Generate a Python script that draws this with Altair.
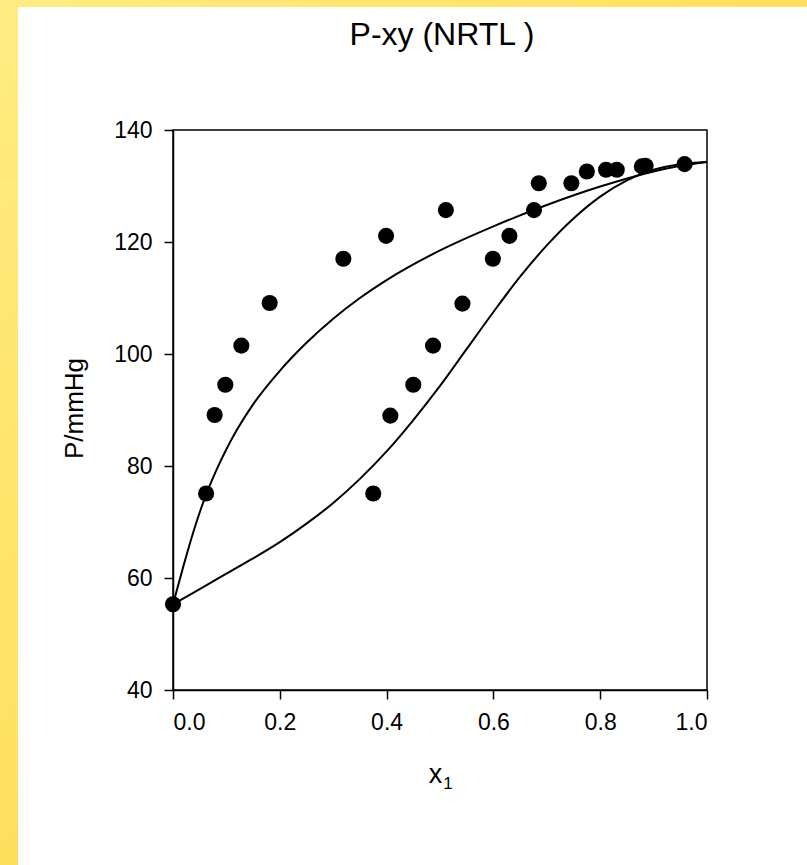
import altair as alt
import pandas as pd

# Experimental points (liquid x1 and vapour y1 compositions vs pressure)
vap_x = [0.000, 0.062, 0.078, 0.098, 0.128, 0.181, 0.319, 0.399, 0.511, 0.685, 0.775, 0.831, 0.878, 0.958]
vap_P = [55.3, 75.1, 89.1, 94.5, 101.5, 109.1, 117.0, 121.1, 125.7, 130.5, 132.6, 132.9, 133.5, 133.9]
liq_x = [0.375, 0.407, 0.450, 0.487, 0.542, 0.599, 0.630, 0.676, 0.746, 0.811, 0.885]
liq_P = [75.1, 89.0, 94.5, 101.5, 109.0, 117.0, 121.1, 125.7, 130.5, 132.9, 133.6]

# NRTL model curves
dew_x = [0.00, 0.02, 0.04, 0.06, 0.08, 0.10, 0.12, 0.15, 0.20, 0.25, 0.30, 0.35, 0.40, 0.50, 0.60, 0.70, 0.80, 0.90, 0.95, 1.00]
dew_P = [55.3, 62.3, 68.8, 74.4, 79.0, 83.0, 86.5, 91.0, 97.0, 102.0, 106.3, 110.0, 113.2, 118.5, 122.8, 126.6, 129.9, 132.6, 133.6, 134.3]
bub_x = [0.00, 0.05, 0.10, 0.15, 0.20, 0.25, 0.30, 0.35, 0.40, 0.45, 0.50, 0.55, 0.60, 0.65, 0.70, 0.75, 0.80, 0.85, 0.90, 0.95, 1.00]
bub_P = [55.3, 58.0, 60.8, 63.5, 66.4, 69.7, 73.4, 77.7, 82.6, 88.2, 94.3, 100.9, 107.5, 113.8, 119.4, 124.2, 128.1, 131.0, 132.9, 133.9, 134.3]

x_ticks = [0.0, 0.2, 0.4, 0.6, 0.8, 1.0]
y_ticks = [40, 60, 80, 100, 120, 140]

FONT = "Liberation Sans"

pts = pd.DataFrame({"x": vap_x + liq_x, "P": vap_P + liq_P})
dew = pd.DataFrame({"x": dew_x, "P": dew_P})
bub = pd.DataFrame({"x": bub_x, "P": bub_P})
one = pd.DataFrame({"k": [0]})

xs = alt.Scale(domain=[0, 1], nice=False, zero=False)
ys = alt.Scale(domain=[40, 140], nice=False, zero=False)

x_axis = alt.Axis(values=x_ticks, format=".1f", grid=False, tickSize=9, labelPadding=12,
                  labelFontSize=23, labelFont=FONT, labelColor="black", zindex=1,
                  domainColor="black", tickColor="black", domainWidth=1.5, tickWidth=1.5,
                  title="x", titleFont=FONT, titleFontSize=27, titleFontWeight="normal",
                  titleColor="black", titleX=262, titleY=92, titleBaseline="alphabetic",
                  titleAlign="center")
y_axis = alt.Axis(values=y_ticks, grid=False, tickSize=9, labelPadding=12,
                  labelFontSize=23, labelFont=FONT, labelColor="black", zindex=1,
                  domainColor="black", tickColor="black", domainWidth=1.5, tickWidth=1.5,
                  title="P/mmHg", titleFont=FONT, titleFontSize=26, titleFontWeight="normal",
                  titleColor="black", titleX=-91, titleY=278, titleBaseline="alphabetic",
                  titleAlign="center", titleAngle=270)

grad = alt.LinearGradient(gradient="linear", x1=0, y1=0, x2=1, y2=1,
                          stops=[alt.GradientStop(color="#FFEC82", offset=0),
                                 alt.GradientStop(color="#FFDC55", offset=0.6),
                                 alt.GradientStop(color="#FFD447", offset=1)])

bg = alt.Chart(one).mark_rect(color=grad).encode(
    x=alt.value(-173), x2=alt.value(634), y=alt.value(-130), y2=alt.value(735))
white = alt.Chart(one).mark_rect(color="white").encode(
    x=alt.value(-155), x2=alt.value(634), y=alt.value(-123), y2=alt.value(735))
frame = alt.Chart(one).mark_rect(fill=None, fillOpacity=0, stroke="black", strokeWidth=1.5).encode(
    x=alt.value(0), x2=alt.value(534), y=alt.value(0), y2=alt.value(560))

dew_line = alt.Chart(dew).mark_line(color="black", strokeWidth=2, interpolate="monotone").encode(
    x=alt.X("x:Q", scale=xs, axis=x_axis), y=alt.Y("P:Q", scale=ys, axis=y_axis))
bub_line = alt.Chart(bub).mark_line(color="black", strokeWidth=2, interpolate="monotone").encode(
    x=alt.X("x:Q", scale=xs), y=alt.Y("P:Q", scale=ys))
points = alt.Chart(pts).mark_circle(color="black", opacity=1, size=260).encode(
    x=alt.X("x:Q", scale=xs), y=alt.Y("P:Q", scale=ys))

title = alt.Chart(one).mark_text(text="P-xy (NRTL )", font=FONT, fontSize=32, color="black",
                                 align="center", baseline="alphabetic").encode(
    x=alt.value(269), y=alt.value(-85))
sub = alt.Chart(one).mark_text(text="1", font=FONT, fontSize=17, color="black",
                               align="center", baseline="alphabetic").encode(
    x=alt.value(275), y=alt.value(659))

chart = alt.layer(bg, white, frame, dew_line, bub_line, points, title, sub).properties(
    width=534, height=560,
    autosize=alt.AutoSizeParams(type="none"),
    padding={"left": 173, "top": 130, "right": 100, "bottom": 175},
    background="white",
).configure_view(stroke=None)

chart.save("out.html", embed_options={"renderer": "svg", "actions": False})
